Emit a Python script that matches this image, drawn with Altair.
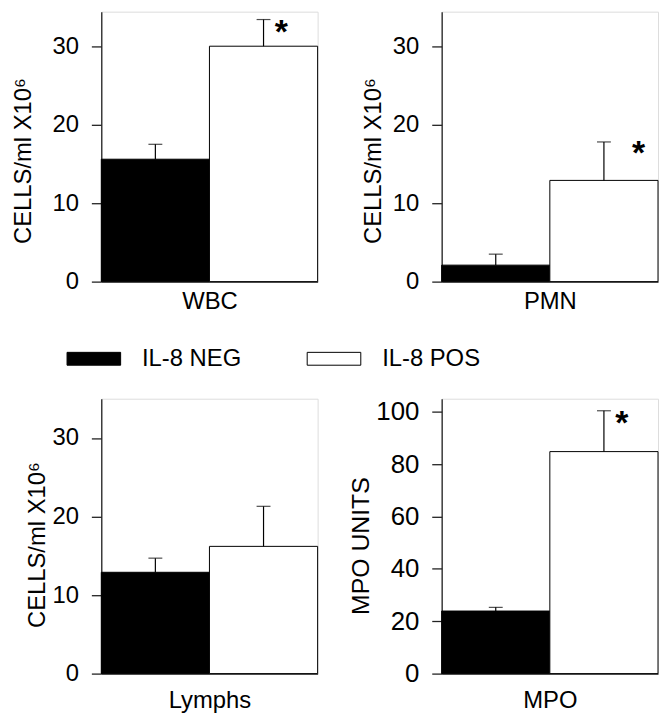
import altair as alt
import pandas as pd

# ---- data ----
categories = ["WBC", "PMN", "Lymphs", "MPO"]
groups = ["IL-8 NEG", "IL-8 POS"]
neg_mean = [15.6, 2.1, 12.9, 23.9]
neg_err = [1.9, 1.4, 1.8, 1.4]
pos_mean = [30.0, 12.9, 16.2, 84.8]
pos_err = [3.4, 4.9, 5.1, 15.6]
significant = [True, True, False, True]
y_titles = ["CELLS/ml X10⁶", "CELLS/ml X10⁶", "CELLS/ml X10⁶", "MPO UNITS"]
cell_ticks = [0, 10, 20, 30]
mpo_ticks = [0, 20, 40, 60, 80, 100]

FONT = "Liberation Sans"

color_scale = alt.Scale(domain=groups, range=["black", "white"])
legend = alt.Legend(
    title=None, orient="none", legendX=-35, legendY=322,
    direction="horizontal", symbolType="M-1,-0.24H1V0.24H-1Z", symbolSize=2916,
    symbolStrokeColor="black", symbolStrokeWidth=1, symbolFillColor="black",
    labelFontSize=24, labelFont=FONT, labelColor="black", labelOffset=21,
    columnPadding=63, labelLimit=300,
)


def panel(i, height, ymax, ticks, y_title_pad, x_title_pad, title_y, title_size,
          label_size, star_dx, star_dy):
    df = pd.DataFrame({
        "group": groups,
        "mean": [neg_mean[i], pos_mean[i]],
        "top": [neg_mean[i] + neg_err[i], pos_mean[i] + pos_err[i]],
        "star": ["", "*" if significant[i] else ""],
    })
    x = alt.X("group:N", sort=groups,
              scale=alt.Scale(paddingInner=0, paddingOuter=0),
              axis=alt.Axis(title=categories[i], labels=False, ticks=False,
                            domain=True, domainColor="#222", domainWidth=1.3,
                            titleFontSize=24, titleFontWeight="normal",
                            titleFont=FONT, titleColor="black",
                            titlePadding=x_title_pad))
    yscale = alt.Scale(domain=[0, ymax], nice=False, zero=True)
    base = alt.Chart(df).encode(x=x)
    bars = base.mark_bar(stroke="black", strokeWidth=1).encode(
        y=alt.Y("mean:Q", scale=yscale,
                axis=alt.Axis(title=y_titles[i], values=ticks, grid=False,
                              tickSize=10, tickColor="#222", tickWidth=1.3,
                              domainColor="#222", domainWidth=1.3,
                              labelFontSize=label_size, labelFont=FONT,
                              labelColor="black", labelPadding=13,
                              titleFontSize=title_size, titleFont=FONT,
                              titleFontWeight="normal", titleColor="black",
                              titlePadding=y_title_pad, titleY=title_y)),
        color=alt.Color("group:N", scale=color_scale, legend=legend),
    )
    rule = base.mark_rule(color="black", strokeWidth=1.2).encode(
        y=alt.Y("mean:Q", scale=yscale), y2="top:Q")
    cap = base.mark_tick(color="black", size=14, thickness=1.2).encode(
        y=alt.Y("top:Q", scale=yscale))
    star = base.mark_text(fontSize=34, fontWeight="bold", font=FONT, color="black",
                          dx=star_dx, dy=star_dy, baseline="top").encode(
        y=alt.Y("top:Q", scale=yscale), text="star:N")
    return alt.layer(bars, rule, cap, star).properties(width=218, height=height)


p1 = panel(0, 272, 34.4, cell_ticks, 17, 8, 150, 24, 24, 18, -3)
p2 = panel(1, 272, 34.4, cell_ticks, 7, 8, 150, 24, 24, 35, -5)
p3 = panel(2, 277, 35, cell_ticks, 3, 15, 147, 24, 24, 20, -5)
p4 = panel(3, 277, 105, mpo_ticks, 2, 15, 148, 25, 26, 18, -4)

chart = alt.concat(p1, p2, p3, p4, columns=2,
                   spacing={"row": 118, "column": 125},
                   bounds="flush").properties(
    padding={"left": 2, "top": 0, "right": 0, "bottom": 0}
).configure_view(stroke=None).configure(background="white")

chart.save("out.html", embed_options={"renderer": "svg", "actions": False})
